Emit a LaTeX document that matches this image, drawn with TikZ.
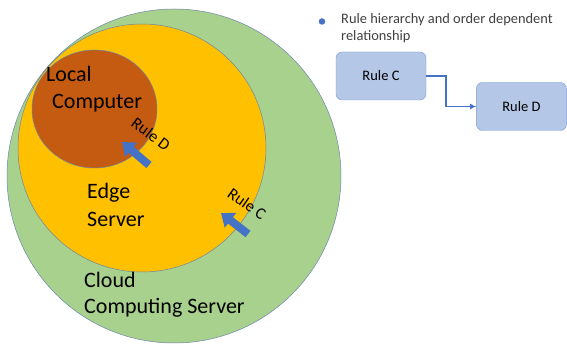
\documentclass[tikz,border=0pt]{standalone}
\usepackage{fontspec}
\setmainfont{Carlito}
\usetikzlibrary{arrows.meta,positioning,shapes.geometric}
\definecolor{CloudGreen}{HTML}{A9D18E}
\definecolor{EdgeGold}{HTML}{FFC000}
\definecolor{LocalRust}{HTML}{C55A11}
\definecolor{RimBlue}{HTML}{6B87A8}
\definecolor{ArrowBlue}{HTML}{4472C4}
\definecolor{BoxFill}{HTML}{B4C7E7}
\definecolor{BoxRim}{HTML}{7B98CF}
\definecolor{NoteGray}{HTML}{404040}

\begin{document}
\begin{tikzpicture}[
  x=1pt,y=-1pt,
  zone/.style={draw=RimBlue,line width=.5pt,inner sep=0pt},
  big/.style={font=\fontsize{22}{26}\selectfont,inner sep=0pt,anchor=base west},
  tag/.style={font=\fontsize{16.5}{19}\selectfont,inner sep=0pt},
  rule/.style={draw=BoxRim,fill=BoxFill,rounded corners=6pt,minimum width=90pt,minimum height=48pt,font=\fontsize{14.5}{17}\selectfont},
  fat/.style={-{Triangle[width=18pt,length=12pt]},draw=ArrowBlue,line width=8pt},
  link/.style={-{Latex[length=6pt,width=6pt]},draw=ArrowBlue,line width=1.8pt}
]
\useasboundingbox (0,0) rectangle (567,347);
% nested zones
\node[zone,circle,fill=CloudGreen,minimum size=334pt] (cloud) at (174,176) {};
\node[zone,circle,fill=EdgeGold,minimum size=248pt] (edge) at (142,148) {};
\node[zone,ellipse,fill=LocalRust,minimum width=125pt,minimum height=118pt] (local) at (94.5,109) {};
\node[big] (localA) at (46,82) {Local};
\node[big] (localB) at (52,108.5) {Computer};
\node[big] (edgeA) at (87,199) {Edge};
\node[big] (edgeB) at (87,226) {Server};
\node[big] (cloudA) at (84,287) {Cloud};
\node[big] (cloudB) at (84,313) {Computing Server};
% rule arrows
\coordinate (dTail) at (149,165);
\coordinate (dTip) at (122,142);
\coordinate (cTail) at (248,234);
\coordinate (cTip) at (221,213);
\draw[fat] (dTail) -- (dTip);
\draw[fat] (cTail) -- (cTip);
\node[tag,rotate=-37] (ruleDtag) at (151,134) {Rule D};
\node[tag,rotate=-35] (ruleCtag) at (247,204) {Rule C};
% legend
\node[circle,fill=ArrowBlue,inner sep=0pt,minimum size=6.5pt] (dot) at (322,21.5) {};
\node[font=\fontsize{14.4}{16.5}\selectfont,text=NoteGray,align=left,inner sep=0pt,anchor=base west] (note) at (341,40.5) {Rule hierarchy and order dependent\\relationship};
\node[rule] (ruleC) at (381,76) {Rule C};
\node[rule,right=50pt of ruleC,yshift=-30.5pt] (ruleD) {Rule D};
\draw[link] (ruleC.east) -- ++(20,0) |- (ruleD.west);
\end{tikzpicture}
\end{document}
